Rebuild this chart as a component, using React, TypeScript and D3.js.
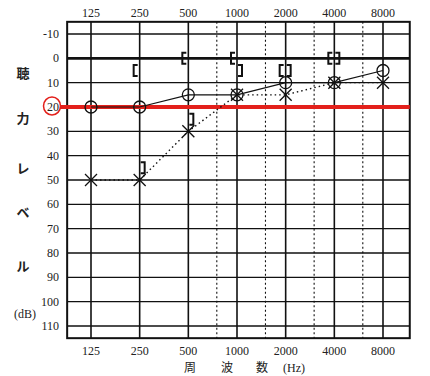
import React from "react";
import * as d3 from "d3";

const freqs = [125, 250, 500, 1000, 2000, 4000, 8000];
const freqLabels = ["125", "250", "500", "1000", "2000", "4000", "8000"];
const halfFreqs = [750, 1500, 3000, 6000];
const dbTicks = [-10, 0, 10, 20, 30, 40, 50, 60, 70, 80, 90, 100, 110];
const rightAir = [20, 20, 15, 15, 10, 10, 5];
const leftAir = [50, 50, 30, 15, 15, 10, 10];
const rightBoneFreqs = [250, 500, 1000, 2000, 4000];
const rightBone = [5, 0, 0, 5, 0];
const leftBoneFreqs = [250, 500, 1000, 2000, 4000];
const leftBone = [45, 25, 5, 5, 0];
const yTitle = ["聴", "力", "レ", "ベ", "ル"];
const xTitle = ["周", "波", "数", "(Hz)"];

export default function App() {
  const W = 430, H = 376;
  const x = d3.scaleLog().base(2).domain([125, 8000]).range([91, 383]);
  const y = d3.scaleLinear().domain([-10, 110]).range([34, 326]);
  const x0 = x(125 / Math.pow(2, 0.49));
  const x1 = x(8000 * Math.pow(2, 0.55));
  const y0 = y(-15);
  const y1 = y(115);
  const serif = "'Liberation Serif', 'DejaVu Serif', serif";
  const cjk = "'Noto Sans CJK JP', sans-serif";

  const rLine = d3.line<number>().x((_, i) => x(freqs[i])).y((d) => y(d))(rightAir) || "";
  const lLine = d3.line<number>().x((_, i) => x(freqs[i])).y((d) => y(d))(leftAir) || "";

  const bw = 4, bh = 11;
  return (
    <svg width={W} height={H} style={{ position: "absolute", left: 0, top: 0, background: "#fff" }}>
      {/* horizontal grid */}
      {dbTicks.map((d) => (
        <line key={"h" + d} x1={x0} x2={x1} y1={y(d)} y2={y(d)} stroke="#111" strokeWidth={d === 0 ? 2.6 : 1.3} />
      ))}
      {/* vertical grid */}
      {freqs.map((f) => (
        <line key={"v" + f} x1={x(f)} x2={x(f)} y1={y0} y2={y1} stroke="#111" strokeWidth={1.6} />
      ))}
      {halfFreqs.map((f) => (
        <line key={"d" + f} x1={x(f)} x2={x(f)} y1={y0} y2={y1} stroke="#111" strokeWidth={1.1} strokeDasharray="2,2.5" />
      ))}
      <rect x={x0} y={y0} width={x1 - x0} height={y1 - y0} fill="none" stroke="#111" strokeWidth={2} />
      {/* red reference line */}
      <line x1={60} x2={x1} y1={y(20)} y2={y(20)} stroke="#e3201b" strokeWidth={4} />
      <ellipse cx={52} cy={y(20) - 1} rx={8.5} ry={9} fill="none" stroke="#e3201b" strokeWidth={1.5} />
      {/* ticks labels */}
      {freqs.map((f, i) => (
        <text key={"t" + f} x={x(f)} y={17} textAnchor="middle" fontFamily={serif} fontSize={12} fill="#222">{freqLabels[i]}</text>
      ))}
      {freqs.map((f, i) => (
        <text key={"b" + f} x={x(f)} y={355} textAnchor="middle" fontFamily={serif} fontSize={12} fill="#222">{freqLabels[i]}</text>
      ))}
      {dbTicks.map((d) => (
        <text key={"l" + d} x={59} y={y(d) + 4} textAnchor="end" fontFamily={serif} fontSize={12} fill="#222">{d}</text>
      ))}
      {yTitle.map((t, i) => (
        <text key={"yt" + i} x={23} y={[73, 118, 168, 212, 266][i] + 5} textAnchor="middle" fontFamily={cjk} fontSize={13} fontWeight="bold" fill="#222">{t}</text>
      ))}
      <text x={25} y={318} textAnchor="middle" fontFamily={serif} fontSize={12} fill="#222">(dB)</text>
      {xTitle.map((t, i) => (
        <text key={"xt" + i} x={[190, 227, 262, 294][i]} y={372} textAnchor="middle" fontFamily={i < 3 ? cjk : serif} fontSize={12} fill="#222">{t}</text>
      ))}
      {/* air conduction lines */}
      <path d={rLine} fill="none" stroke="#111" strokeWidth={1.2} />
      <path d={lLine} fill="none" stroke="#111" strokeWidth={1.4} strokeDasharray="1.5,3" />
      {rightAir.map((d, i) => (
        <circle key={"o" + i} cx={x(freqs[i])} cy={y(d)} r={6} fill="none" stroke="#111" strokeWidth={1.3} />
      ))}
      {leftAir.map((d, i) => {
        const cx = x(freqs[i]), cy = y(d), s = 6;
        return (
          <g key={"x" + i} stroke="#111" strokeWidth={1.3}>
            <line x1={cx - s} y1={cy - s} x2={cx + s} y2={cy + s} />
            <line x1={cx - s} y1={cy + s} x2={cx + s} y2={cy - s} />
          </g>
        );
      })}
      {/* bone conduction */}
      {rightBone.map((d, i) => {
        const bx = x(rightBoneFreqs[i]) - 6, by = y(d);
        return (
          <path key={"rb" + i} d={`M${bx + bw},${by - bh / 2}H${bx}V${by + bh / 2}H${bx + bw}`} fill="none" stroke="#111" strokeWidth={2} />
        );
      })}
      {leftBone.map((d, i) => {
        const bx = x(leftBoneFreqs[i]) + 5, by = y(d);
        return (
          <path key={"lb" + i} d={`M${bx - bw},${by - bh / 2}H${bx}V${by + bh / 2}H${bx - bw}`} fill="none" stroke="#111" strokeWidth={2} />
        );
      })}
    </svg>
  );
}
